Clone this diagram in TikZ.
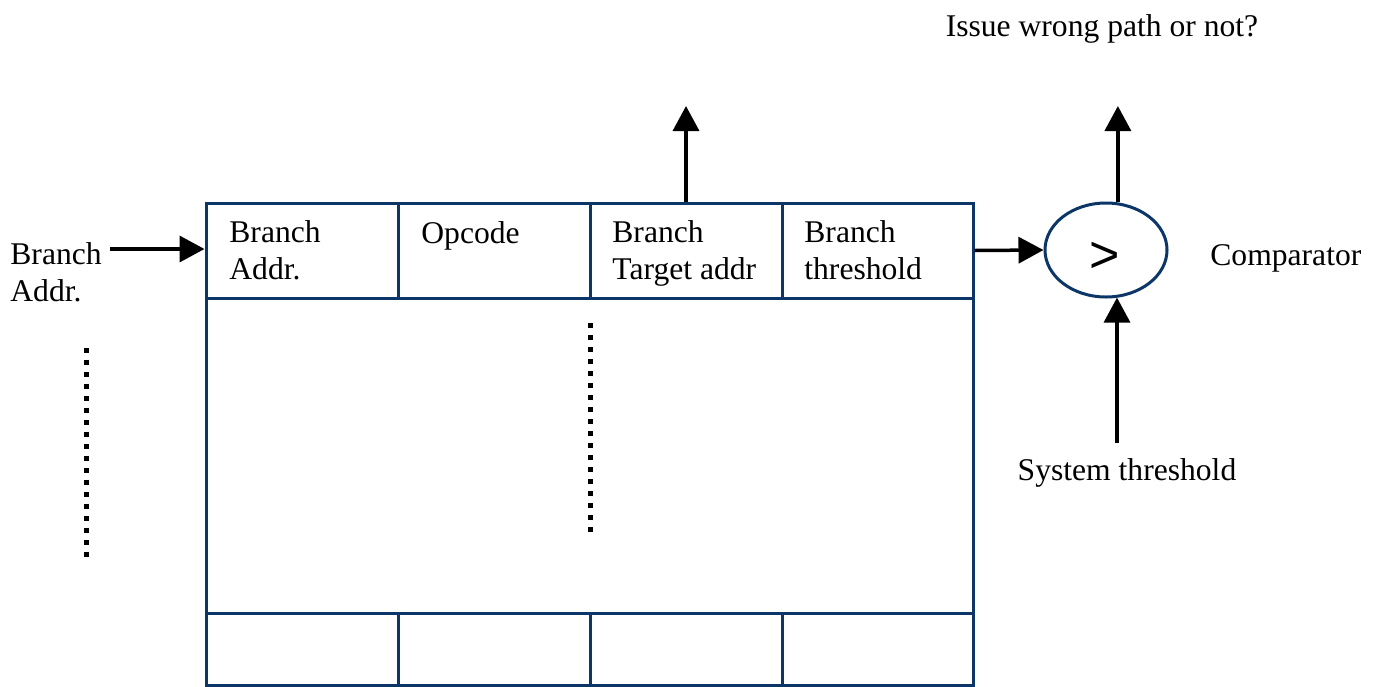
\documentclass[tikz,border=0pt]{standalone}
\usepackage{fontspec}
\setmainfont{Liberation Serif}
\newfontfamily\symfont{Liberation Sans}
\usetikzlibrary{arrows.meta,shapes.geometric}
\definecolor{navy}{RGB}{12,54,104}
\begin{document}
\begin{tikzpicture}[x=0.5pt,y=-0.5pt,
  cell/.style={draw=navy,line width=1.5pt,minimum width=96pt,inner sep=0pt},
  hcell/.style={cell,minimum height=47.5pt},
  bcell/.style={cell,minimum height=36pt},
  txt/.style={font=\fontsize{15.8}{18.2}\selectfont,inner sep=0pt,align=left},
  arr/.style={line width=1.75pt,-{Triangle[length=12.5pt,width=13pt]}},
  dots/.style={line width=2.5pt,dash pattern=on 2.5pt off 3.5pt}]
\useasboundingbox (0,0) rectangle (1380,686);
% table
\node[cell,minimum width=383.5pt,minimum height=157.5pt] (body) at (589.5,455.5) {};
\node[hcell] (c1) at (302,250.5) {};
\node[hcell] (c2) at (494,250.5) {};
\node[hcell] (c3) at (686,250.5) {};
\node[hcell,minimum width=95.5pt] (c4) at (877.5,250.5) {};
\node[bcell] (b1) at (302,649) {};
\node[bcell] (b2) at (494,649) {};
\node[bcell] (b3) at (686,649) {};
\node[bcell,minimum width=95.5pt] (b4) at (877.5,649) {};
% cell texts (base anchor = last line)
\node[txt,anchor=base west] (t1) at (229,279) {Branch\\Addr.};
\node[txt,anchor=base west] (t2) at (421,243) {Opcode};
\node[txt,anchor=base west] (t3) at (612,279) {Branch\\Target addr};
\node[txt,anchor=base west] (t4) at (804,279) {Branch\\threshold};
% outside labels
\node[txt,anchor=base west] (lin) at (10,301) {Branch\\Addr.};
\node[txt,anchor=base west] (lcmp) at (1210,265) {Comparator};
\node[txt,anchor=base] (lsys) at (1127,480) {System threshold};
\node[txt,anchor=base] (liss) at (1102,36) {Issue wrong path or not?};
% comparator
\node[ellipse,draw=navy,line width=1.5pt,minimum width=61pt,minimum height=47pt,inner sep=0pt] (cmp) at (1106,250) {};
\node[font=\symfont\fontsize{26}{26}\selectfont,inner sep=0pt] (gt) at (1105,257) {>};
% connectors
\coordinate (inA) at (110,249);
\draw[arr] (inA) -- (inA -| c1.west);
\coordinate (outT) at (686,106);
\draw[arr] (c3.north) -- (outT);
\draw[arr] (c4.east) -- (cmp.west);
\coordinate (outC) at (1117,106);
\draw[arr] (cmp.76.6) -- (cmp.76.6 |- outC);
\coordinate (inC) at (1117,443);
\draw[arr] (inC) -- (inC |- cmp.-76.6);
% dotted lines
\draw[dots] (86,348) -- (86,562);
\draw[dots] (590,323) -- (590,538);
\end{tikzpicture}
\end{document}
